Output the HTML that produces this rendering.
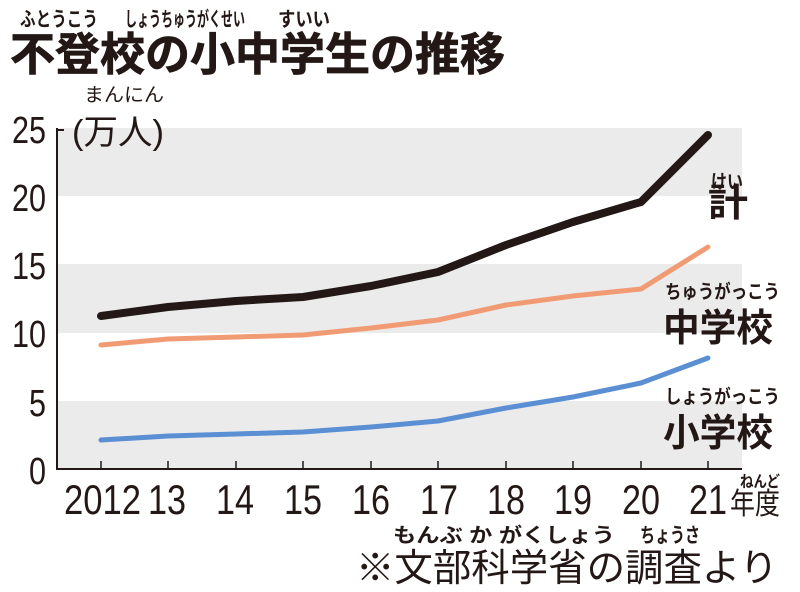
<!DOCTYPE html>
<html><head><meta charset="utf-8"><style>
html,body{margin:0;padding:0;background:#fff;}
svg{display:block;}
text{font-family:"Liberation Sans","Noto Sans CJK JP",sans-serif;fill:#231815;}
</style></head><body>
<svg width="800" height="592" viewBox="0 0 800 592" xmlns="http://www.w3.org/2000/svg">
<rect width="800" height="592" fill="#fff"/>
<rect x="57" y="128" width="685" height="68" fill="#ebebeb"/>
<rect x="57" y="264" width="685" height="69" fill="#ebebeb"/>
<rect x="57" y="401" width="685" height="68" fill="#ebebeb"/>
<path d="M57 469 V128 M57 130 H64" stroke="#231815" stroke-width="2" fill="none"/>
<line x1="56" y1="469" x2="742" y2="469" stroke="#231815" stroke-width="2"/>
<g stroke="#231815" stroke-width="1.5">
<line x1="101" y1="469" x2="101" y2="461"/><line x1="168" y1="469" x2="168" y2="461"/><line x1="236" y1="469" x2="236" y2="461"/><line x1="303" y1="469" x2="303" y2="461"/><line x1="371" y1="469" x2="371" y2="461"/><line x1="438" y1="469" x2="438" y2="461"/><line x1="506" y1="469" x2="506" y2="461"/><line x1="573" y1="469" x2="573" y2="461"/><line x1="641" y1="469" x2="641" y2="461"/><line x1="708" y1="469" x2="708" y2="461"/>
</g>
<!-- title -->
<text x="20" y="26" font-size="20" font-weight="bold" textLength="78" lengthAdjust="spacingAndGlyphs">ふとうこう</text>
<text x="125" y="26" font-size="20" font-weight="bold" textLength="120" lengthAdjust="spacingAndGlyphs">しょうちゅうがくせい</text>
<text x="278" y="26" font-size="20" font-weight="bold" textLength="52" lengthAdjust="spacingAndGlyphs">すいい</text>
<text x="10" y="70" font-size="45" font-weight="bold" textLength="495" lengthAdjust="spacingAndGlyphs" style="stroke:#231815;stroke-width:0.8">不登校の小中学生の推移</text>
<text x="84" y="101" font-size="19" textLength="80" lengthAdjust="spacingAndGlyphs">まんにん</text>
<text x="72" y="144" font-size="34" textLength="92" lengthAdjust="spacingAndGlyphs">(万人)</text>
<g font-size="38" text-anchor="end">
<text x="46" y="143" textLength="34" lengthAdjust="spacingAndGlyphs">25</text>
<text x="46" y="211" textLength="34" lengthAdjust="spacingAndGlyphs">20</text>
<text x="46" y="279" textLength="34" lengthAdjust="spacingAndGlyphs">15</text>
<text x="46" y="347" textLength="34" lengthAdjust="spacingAndGlyphs">10</text>
<text x="46" y="416" textLength="17" lengthAdjust="spacingAndGlyphs">5</text>
<text x="46" y="484" textLength="17" lengthAdjust="spacingAndGlyphs">0</text>
</g>
<g font-size="42">
<text x="64" y="514" textLength="77" lengthAdjust="spacingAndGlyphs">2012</text>
<text x="148" y="514" textLength="38" lengthAdjust="spacingAndGlyphs">13</text>
<text x="216" y="514" textLength="38" lengthAdjust="spacingAndGlyphs">14</text>
<text x="284" y="514" textLength="38" lengthAdjust="spacingAndGlyphs">15</text>
<text x="352" y="514" textLength="38" lengthAdjust="spacingAndGlyphs">16</text>
<text x="420" y="514" textLength="38" lengthAdjust="spacingAndGlyphs">17</text>
<text x="487" y="514" textLength="38" lengthAdjust="spacingAndGlyphs">18</text>
<text x="554" y="514" textLength="38" lengthAdjust="spacingAndGlyphs">19</text>
<text x="622" y="514" textLength="38" lengthAdjust="spacingAndGlyphs">20</text>
<text x="689" y="514" textLength="38" lengthAdjust="spacingAndGlyphs">21</text>
</g>
<text x="740" y="487" font-size="16" font-weight="bold" textLength="40" lengthAdjust="spacingAndGlyphs">ねんど</text>
<text x="730" y="514" font-size="30" textLength="50" lengthAdjust="spacingAndGlyphs">年度</text>
<text x="393" y="542" font-size="20" font-weight="bold" textLength="222" lengthAdjust="spacingAndGlyphs">もんぶ か がくしょう</text>
<text x="640" y="542" font-size="20" font-weight="bold" textLength="60" lengthAdjust="spacingAndGlyphs">ちょうさ</text>
<text x="356" y="581" font-size="38" textLength="422" lengthAdjust="spacingAndGlyphs">※文部科学省の調査より</text>
<polyline fill="none" stroke="#5b8fd4" stroke-width="5" stroke-linejoin="round" stroke-linecap="round" points="101,440 168,436 236,434 303,432 371,427 438,421 506,408 573,397 641,383 708,358"/>
<polyline fill="none" stroke="#f19b74" stroke-width="5" stroke-linejoin="round" stroke-linecap="round" points="101,345 168,339 236,337 303,335 371,328 438,320 506,305 573,296 641,289 708,247"/>
<polyline fill="none" stroke="#231815" stroke-width="8" stroke-linejoin="round" stroke-linecap="round" points="101,316 168,307 236,301 303,297 371,286 438,272 506,245 573,222 641,202 708,135"/>
<text x="711" y="188" font-size="19" font-weight="bold" textLength="32" lengthAdjust="spacingAndGlyphs">けい</text>
<text x="708" y="216" font-size="38" font-weight="bold" textLength="40" lengthAdjust="spacingAndGlyphs">計</text>
<text x="665" y="298" font-size="19" font-weight="bold" textLength="115" lengthAdjust="spacingAndGlyphs">ちゅうがっこう</text>
<text x="663" y="341" font-size="38" font-weight="bold" textLength="110" lengthAdjust="spacingAndGlyphs">中学校</text>
<text x="665" y="403" font-size="19" font-weight="bold" textLength="115" lengthAdjust="spacingAndGlyphs">しょうがっこう</text>
<text x="663" y="446" font-size="38" font-weight="bold" textLength="110" lengthAdjust="spacingAndGlyphs">小学校</text>
</svg>
</body></html>
